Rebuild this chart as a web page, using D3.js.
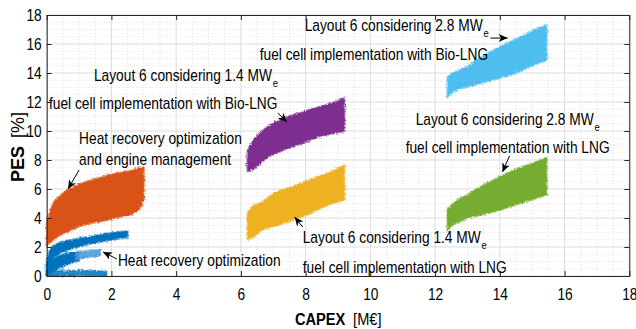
<!DOCTYPE html>
<html>
<head>
<meta charset="utf-8">
<script src="https://cdn.jsdelivr.net/npm/d3@7"></script>
<style>
  html, body { margin: 0; padding: 0; background: #fff; }
  svg { display: block; font-family: "Liberation Sans", Arial, sans-serif; }
</style>
</head>
<body>
<svg id="chart" width="636" height="329"></svg>
<script>
// ---- data: PES [%] envelope of each scenario cloud, rows are [CAPEX, PES low, PES high]
const heatRecoveryUpper  = [[0.0,0.3,0.9],[0.1,0.9,1.8],[0.4,1.55,2.3],[0.8,1.9,2.5],[1.3,2.2,2.7],[1.9,2.45,2.95],[2.5,2.65,3.1]];
const heatRecoveryMiddle = [[0.0,0.0,0.9],[0.3,0.45,1.3],[0.7,0.85,1.6],[1.0,1.05,1.7]];
const heatRecoveryFaint  = [[0.9,1.15,1.6],[1.3,1.3,1.75],[1.65,1.4,1.8]];
const heatRecoveryBottom = [[0.0,0.0,0.35],[0.6,0.0,0.35],[1.2,0.02,0.38],[1.85,0.0,0.3]];
const engineManagement   = [[0.0,2.1,3.7],[0.1,2.3,4.4],[0.2,2.5,5.0],[0.4,2.8,5.5],[0.65,3.05,5.95],[1.1,3.5,6.4],[1.65,3.75,6.8],[2.2,4.05,7.1],[2.65,4.3,7.3],[2.85,4.6,7.45],[3.0,5.2,7.5]];
const fc14BioLNG = [[6.2,7.2,8.6],[6.4,7.4,9.4],[6.8,8.15,10.25],[7.35,8.7,10.9],[7.9,9.15,11.3],[8.4,9.6,11.65],[8.9,9.85,12.0],[9.2,10.0,12.3]];
const fc14LNG    = [[6.2,2.5,4.3],[6.35,2.65,4.75],[6.65,3.15,5.1],[7.05,3.45,5.72],[7.6,3.85,6.15],[8.1,4.3,6.62],[8.7,4.9,7.1],[9.2,5.25,7.65]];
const fc28BioLNG = [[12.38,12.3,13.7],[12.55,12.7,14.0],[12.76,12.9,14.2],[13.0,13.05,14.45],[13.4,13.3,15.05],[14.0,13.65,15.8],[14.55,14.05,16.4],[15.05,14.55,16.95],[15.45,14.9,17.3]];
const fc28LNG    = [[12.38,3.15,4.55],[12.55,3.5,5.0],[12.85,3.85,5.45],[13.0,4.0,5.6],[13.4,4.2,6.15],[14.0,4.55,6.83],[14.6,5.0,7.45],[15.1,5.35,7.85],[15.45,5.6,8.15]];

const xTickValues = [0, 2, 4, 6, 8, 10, 12, 14, 16, 18];
const yTickValues = [0, 2, 4, 6, 8, 10, 12, 14, 16, 18];

// annotation text: [CAPEX, PES] anchor of the first line's baseline start
const annotations = [
  { at: [7.97, 16.9],  text: "Layout 6 considering 2.8 MW", sub: "e" },
  { at: [6.58, 14.9],  text: "fuel cell implementation with Bio-LNG" },
  { at: [1.46, 13.45], text: "Layout 6 considering 1.4 MW", sub: "e" },
  { at: [0.07, 11.52], text: "fuel cell implementation with Bio-LNG" },
  { at: [1.0, 9.1],    text: "Heat recovery optimization" },
  { at: [1.0, 7.66],   text: "and engine management" },
  { at: [11.4, 10.41], text: "Layout 6 considering 2.8 MW", sub: "e" },
  { at: [11.09, 8.48], text: "fuel cell implementation with LNG" },
  { at: [7.91, 2.28],  text: "Layout 6 considering 1.4 MW", sub: "e" },
  { at: [7.91, 0.21],  text: "fuel cell implementation with LNG" },
  { at: [2.2, 0.69],   text: "Heat recovery optimization" }
];
// arrows: [from CAPEX, from PES, to CAPEX, to PES]
const arrows = [
  [13.71, 16.41, 14.24, 16.41],
  [7.14, 11.24, 7.42, 10.62],
  [1.0, 7.31, 0.66, 6.0],
  [14.3, 8.28, 14.08, 7.17],
  [7.91, 3.38, 7.66, 4.07],
  [2.17, 1.17, 1.74, 1.66]
];

// ---- layout
const svg = d3.select("#chart");
const W = 636, H = 329;
const plot = { left: 46.7, right: 629.3, top: 15, bottom: 276 };
const x = d3.scaleLinear().domain([0, 18]).range([plot.left, plot.right]);
const y = d3.scaleLinear().domain([0, 18]).range([plot.bottom, plot.top]);
const squeeze = 0.86;

svg.append("rect").attr("width", W).attr("height", H).attr("fill", "#fff");

const defs = svg.append("defs");
const rough = defs.append("filter").attr("id", "rough")
  .attr("x", "-5%").attr("y", "-5%").attr("width", "110%").attr("height", "110%");
rough.append("feTurbulence").attr("type", "fractalNoise").attr("baseFrequency", 0.55)
  .attr("numOctaves", 2).attr("seed", 3).attr("result", "noise");
rough.append("feDisplacementMap").attr("in", "SourceGraphic").attr("in2", "noise")
  .attr("scale", 3.5).attr("xChannelSelector", "R").attr("yChannelSelector", "G").attr("result", "disp");
rough.append("feGaussianBlur").attr("in", "disp").attr("stdDeviation", 0.45);

defs.append("marker").attr("id", "head")
  .attr("viewBox", "-10 -5 12 10").attr("refX", 0).attr("refY", 0)
  .attr("markerWidth", 12).attr("markerHeight", 10).attr("markerUnits", "userSpaceOnUse")
  .attr("orient", "auto")
  .append("path").attr("d", "M0,0 L-9,-4 L-6.5,0 L-9,4 Z").attr("fill", "#000");

// ---- grid
const grid = svg.append("g");
const minorX = d3.range(0, 18.01, 0.5).filter(v => v % 2 !== 0);
const minorY = d3.range(0, 18.01, 0.5).filter(v => v % 2 !== 0);
grid.selectAll(".mx").data(minorX).join("line")
  .attr("x1", d => x(d)).attr("x2", d => x(d)).attr("y1", plot.top).attr("y2", plot.bottom)
  .attr("stroke", "#d9d9d9").attr("stroke-width", 0.8).attr("stroke-dasharray", "1,2");
grid.selectAll(".my").data(minorY).join("line")
  .attr("y1", d => y(d)).attr("y2", d => y(d)).attr("x1", plot.left).attr("x2", plot.right)
  .attr("stroke", "#d9d9d9").attr("stroke-width", 0.8).attr("stroke-dasharray", "1,2");
grid.selectAll(".gx").data(xTickValues).join("line")
  .attr("x1", d => x(d)).attr("x2", d => x(d)).attr("y1", plot.top).attr("y2", plot.bottom)
  .attr("stroke", "#dcdcdc").attr("stroke-width", 1);
grid.selectAll(".gy").data(yTickValues).join("line")
  .attr("y1", d => y(d)).attr("y2", d => y(d)).attr("x1", plot.left).attr("x2", plot.right)
  .attr("stroke", "#dcdcdc").attr("stroke-width", 1);

// ---- clouds
const area = d3.area()
  .x(d => x(d[0])).y0(d => y(d[1])).y1(d => y(d[2]))
  .curve(d3.curveMonotoneX);

const clouds = [
  { data: heatRecoveryBottom, color: "#0072BD", opacity: 0.85 },
  { data: heatRecoveryMiddle, color: "#0072BD", opacity: 1 },
  { data: heatRecoveryFaint,  color: "#4d9bd6", opacity: 0.9 },
  { data: heatRecoveryUpper,  color: "#0072BD", opacity: 1 },
  { data: engineManagement,   color: "#D95319", opacity: 1 },
  { data: fc14BioLNG,         color: "#7E2F8E", opacity: 1 },
  { data: fc14LNG,            color: "#EDB120", opacity: 1 },
  { data: fc28BioLNG,         color: "#4DBEEE", opacity: 1 },
  { data: fc28LNG,            color: "#77AC30", opacity: 1 }
];
const cloudLayer = svg.append("g").attr("filter", "url(#rough)");
cloudLayer.selectAll("path").data(clouds).join("path")
  .attr("d", d => area(d.data))
  .attr("fill", d => d.color)
  .attr("fill-opacity", d => d.opacity)
  .attr("stroke", d => d.color)
  .attr("stroke-opacity", 0.55)
  .attr("stroke-width", 2.2)
  .attr("stroke-linejoin", "round");

// ---- axes (box with inward ticks on all sides)
const axisColor = "#262626";
function styleAxis(g) {
  g.select(".domain").attr("stroke", axisColor).attr("stroke-width", 1);
  g.selectAll(".tick line").attr("stroke", axisColor).attr("stroke-width", 1);
  g.selectAll(".tick text").attr("fill", "#000").attr("font-size", 16)
    .attr("font-family", "'Liberation Sans', Arial, sans-serif");
}
const xAxis = svg.append("g").attr("transform", `translate(0,${plot.bottom})`)
  .call(d3.axisBottom(x).tickValues(xTickValues).tickSizeInner(-5).tickSizeOuter(0).tickPadding(12.6))
  .call(styleAxis);
xAxis.selectAll(".tick text").attr("transform", `scale(${squeeze},1)`);

const yAxis = svg.append("g").attr("transform", `translate(${plot.left},0)`)
  .call(d3.axisLeft(y).tickValues(yTickValues).tickSizeInner(-5).tickSizeOuter(0).tickPadding(5))
  .call(styleAxis);
yAxis.selectAll(".tick text")
  .attr("x", -5 / squeeze)
  .attr("transform", `scale(${squeeze},1)`);

svg.append("g").attr("transform", `translate(0,${plot.top})`)
  .call(d3.axisTop(x).tickValues(xTickValues).tickSizeInner(-5).tickSizeOuter(0).tickFormat(""))
  .call(styleAxis);
svg.append("g").attr("transform", `translate(${plot.right},0)`)
  .call(d3.axisRight(y).tickValues(yTickValues).tickSizeInner(-5).tickSizeOuter(0).tickFormat(""))
  .call(styleAxis);

// ---- axis titles
const xt = svg.append("text").attr("transform", `translate(295,325) scale(${squeeze},1)`)
  .attr("font-size", 17).attr("fill", "#000");
xt.append("tspan").attr("font-weight", "bold").text("CAPEX");
xt.append("tspan").attr("dx", 9).text("[M€]");

const yt = svg.append("text").attr("transform", "translate(24,182) rotate(-90)")
  .attr("font-size", 18).attr("fill", "#000");
yt.append("tspan").attr("font-weight", "bold").text("PES");
yt.append("tspan").attr("dx", 8).text("[%]");

// ---- annotations
const notes = svg.append("g").attr("font-size", 16).attr("fill", "#000");
annotations.forEach(a => {
  const t = notes.append("text")
    .attr("transform", `translate(${x(a.at[0])},${y(a.at[1])}) scale(${squeeze},1)`);
  t.append("tspan").text(a.text);
  if (a.sub) t.append("tspan").attr("font-size", 11).attr("dy", 6).attr("dx", 1).text(a.sub);
});

svg.append("g").selectAll("line").data(arrows).join("line")
  .attr("x1", d => x(d[0])).attr("y1", d => y(d[1]))
  .attr("x2", d => x(d[2])).attr("y2", d => y(d[3]))
  .attr("stroke", "#000").attr("stroke-width", 1)
  .attr("marker-end", "url(#head)");
</script>
</body>
</html>
